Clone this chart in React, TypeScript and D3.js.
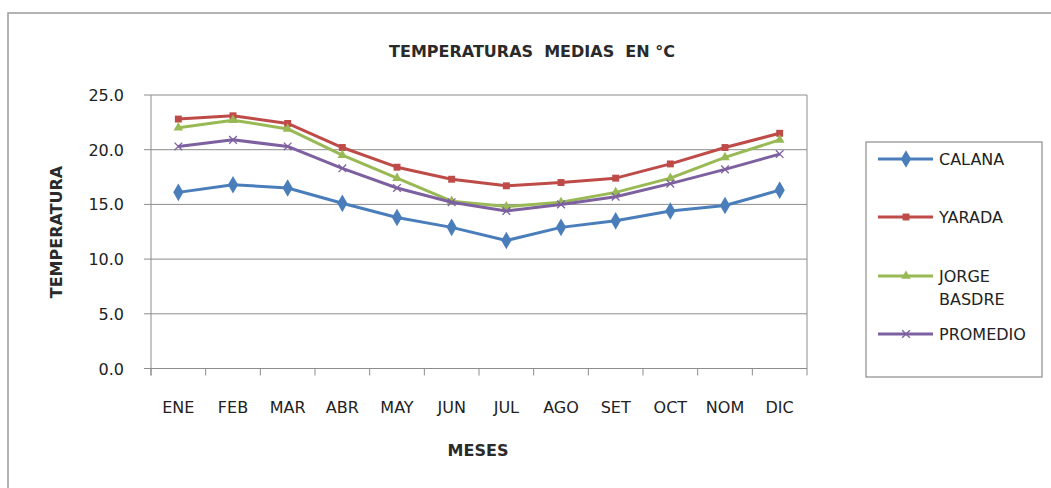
import React from 'react';
import * as d3 from 'd3';

const meses = ['ENE', 'FEB', 'MAR', 'ABR', 'MAY', 'JUN', 'JUL', 'AGO', 'SET', 'OCT', 'NOM', 'DIC'];
const calana = [16.1, 16.8, 16.5, 15.1, 13.8, 12.9, 11.7, 12.9, 13.5, 14.4, 14.9, 16.3];
const yarada = [22.8, 23.1, 22.4, 20.2, 18.4, 17.3, 16.7, 17.0, 17.4, 18.7, 20.2, 21.5];
const jorgeBasdre = [22.0, 22.7, 21.9, 19.5, 17.4, 15.3, 14.8, 15.2, 16.1, 17.4, 19.3, 20.9];
const promedio = [20.3, 20.9, 20.3, 18.3, 16.5, 15.2, 14.4, 15.0, 15.7, 16.9, 18.2, 19.6];
const yTicks = [0, 5, 10, 15, 20, 25];

const series = [
  { name: ['CALANA'], values: calana, color: '#4A7EBB', marker: 'diamond' },
  { name: ['YARADA'], values: yarada, color: '#BE4B48', marker: 'square' },
  { name: ['JORGE', 'BASDRE'], values: jorgeBasdre, color: '#98B954', marker: 'triangle' },
  { name: ['PROMEDIO'], values: promedio, color: '#7D60A0', marker: 'x' },
];

const FONT = '"DejaVu Sans", Verdana, sans-serif';

function Marker({ type, x, y, color }: { type: string; x: number; y: number; color: string }) {
  if (type === 'diamond') {
    const p = d3.symbol().type(d3.symbolDiamond).size(90)();
    return <path d={p!} transform={`translate(${x},${y})`} fill={color} />;
  }
  if (type === 'square') {
    const p = d3.symbol().type(d3.symbolSquare).size(48)();
    return <path d={p!} transform={`translate(${x},${y})`} fill={color} />;
  }
  if (type === 'triangle') {
    const p = d3.symbol().type(d3.symbolTriangle).size(40)();
    return <path d={p!} transform={`translate(${x},${y})`} fill={color} />;
  }
  const p = d3.symbol().type(d3.symbolX).size(40)();
  return <path d={p!} transform={`translate(${x},${y})`} fill="none" stroke={color} strokeWidth={1.3} />;
}

export default function App() {
  const width = 1051;
  const height = 488;
  const left = 151, right = 807, top = 95, bottom = 368.5;

  const x = d3.scaleBand<string>().domain(meses).range([left, right]);
  const y = d3.scaleLinear().domain([0, 25]).range([bottom, top]);

  const line = d3.line<number>()
    .x((_, i) => x(meses[i])! + x.bandwidth() / 2)
    .y(d => y(d));

  const legendY = [159, 217, 276, 334];

  return (
    <svg width={width} height={height} style={{ position: 'absolute', left: 0, top: 0, background: '#fff' }}
      fontFamily={FONT}>
      {/* borde del área del gráfico */}
      <rect x={8} y={13} width={1200} height={700} fill="#fff" stroke="#9a9a9a" strokeWidth={1.5} />

      <text x={532} y={57} textAnchor="middle" fontSize={16} fontWeight="bold" fill="#2a2a2a"
        style={{ whiteSpace: 'pre' }}>
        {'TEMPERATURAS  MEDIAS  EN °C'}
      </text>

      {/* líneas de división */}
      {yTicks.map(t => (
        <g key={t}>
          <line x1={left - 7} x2={right} y1={y(t)} y2={y(t)} stroke="#8c8c8c" strokeWidth={1} />
          <text x={124} y={y(t) + 6} textAnchor="end" fontSize={16} fill="#222">{t.toFixed(1)}</text>
        </g>
      ))}
      <line x1={left} x2={left} y1={top} y2={bottom + 7} stroke="#8c8c8c" />
      <line x1={right} x2={right} y1={top} y2={bottom + 7} stroke="#8c8c8c" />
      {meses.map(m => (
        <g key={m}>
          <line x1={x(m)!} x2={x(m)!} y1={bottom} y2={bottom + 7} stroke="#8c8c8c" />
          <text x={x(m)! + x.bandwidth() / 2} y={413} textAnchor="middle" fontSize={16} fill="#222">{m}</text>
        </g>
      ))}

      <text x={478} y={456} textAnchor="middle" fontSize={16} fontWeight="bold" fill="#2a2a2a">MESES</text>
      <text transform="translate(62,232) rotate(-90)" textAnchor="middle" fontSize={16} fontWeight="bold" fill="#2a2a2a">
        TEMPERATURA
      </text>

      {series.map(s => (
        <g key={s.name.join(' ')}>
          <path d={line(s.values)!} fill="none" stroke={s.color} strokeWidth={3} strokeLinejoin="round" />
          {s.values.map((v, i) => (
            <Marker key={i} type={s.marker} x={x(meses[i])! + x.bandwidth() / 2} y={y(v)} color={s.color} />
          ))}
        </g>
      ))}

      {/* leyenda */}
      <rect x={866} y={142} width={176} height={235} fill="#fff" stroke="#8c8c8c" strokeWidth={1.2} />
      {series.map((s, i) => (
        <g key={s.name.join(' ')}>
          <line x1={878} x2={933} y1={legendY[i]} y2={legendY[i]} stroke={s.color} strokeWidth={3} />
          <Marker type={s.marker} x={906} y={legendY[i]} color={s.color} />
          {s.name.map((n, j) => (
            <text key={n} x={939} y={legendY[i] + 6 + j * 23} fontSize={16} fill="#222">{n}</text>
          ))}
        </g>
      ))}
    </svg>
  );
}
